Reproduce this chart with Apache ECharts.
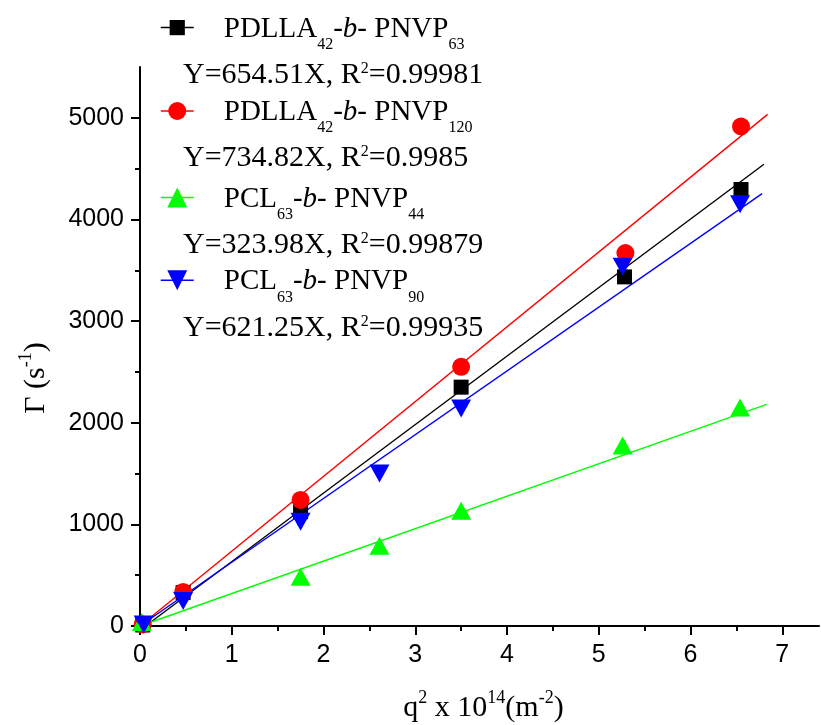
<!DOCTYPE html>
<html>
<head>
<meta charset="UTF-8">
<script src="https://cdn.jsdelivr.net/npm/echarts@6/dist/echarts.min.js"></script>
<style>
  html, body { margin: 0; padding: 0; background: #fff; }
  #chart { width: 821px; height: 725px; }
</style>
</head>
<body>
<div id="chart"></div>
<script type="text/javascript">

    // measured points, x = q^2 in 10^14 m^-2, y = Gamma in s^-1
    var xBlack = [0.03, 0.47, 1.75, 3.50, 5.28, 6.55];
    var yBlack = [10, 330, 1125, 2350, 3435, 4295];
    var xRed   = [0.03, 0.47, 1.75, 3.50, 5.29, 6.55];
    var yRed   = [15, 335, 1240, 2550, 3670, 4915];
    var xGreen = [0.02, 1.75, 2.61, 3.50, 5.26, 6.54];
    var yGreen = [40, 485, 790, 1135, 1775, 2150];
    var xBlue  = [0.04, 0.47, 1.75, 2.61, 3.50, 5.26, 6.54];
    var yBlue  = [15, 245, 1025, 1500, 2140, 3535, 4150];

    // fitted lines, end points
    var fitBlack = [[0.06, 0], [6.80, 4543]];
    var fitRed   = [[0, 0], [6.84, 5034]];
    var fitGreen = [[0, 0], [6.83, 2180]];
    var fitBlue  = [[0, 0], [6.78, 4254]];

    // ticks
    var xTicks = [0, 1, 2, 3, 4, 5, 6, 7];
    var xMinor = [0.5, 1.5, 2.5, 3.5, 4.5, 5.5, 6.5];
    var yTicks = [0, 1000, 2000, 3000, 4000, 5000];
    var yMinor = [500, 1500, 2500, 3500, 4500];

    // legend text: [polymer A, its index, polymer B, its index]
    var names = ['PDLLA42-b-PNVP63', 'PDLLA42-b-PNVP120', 'PCL63-b-PNVP44', 'PCL63-b-PNVP90'];
    var nameParts = [
        ['PDLLA', '42', 'PNVP', '63'],
        ['PDLLA', '42', 'PNVP', '120'],
        ['PCL', '63', 'PNVP', '44'],
        ['PCL', '63', 'PNVP', '90']
    ];
    var eqParts = [
        ['Y=654.51X, R', '=0.99981'],
        ['Y=734.82X, R', '=0.9985'],
        ['Y=323.98X, R', '=0.99879'],
        ['Y=621.25X, R', '=0.99935']
    ];

    var colors = ['#000000', '#ff0000', '#00ff00', '#0000ff'];
    var serif = 'Liberation Serif, Times New Roman, serif';
    var sans = 'Liberation Sans, Arial, sans-serif';

    var legendCaps = [26.3, 109.7, 196.3, 279];
    var eqCaps = [73, 156, 243, 326];
    var iconH = [19, 22.5, 25, 25];

    var chart = echarts.init(document.getElementById('chart'));

    var legendRich = {
        p: { fontSize: 29, fontFamily: serif, color: '#000', lineHeight: 30, verticalAlign: 'top', padding: [10, 0, 0, 25] },
        n: { fontSize: 29, fontFamily: serif, color: '#000', lineHeight: 30, verticalAlign: 'top', padding: [10, 0, 0, 0] },
        i: { fontSize: 29, fontFamily: serif, fontStyle: 'italic', color: '#000', lineHeight: 30, verticalAlign: 'top', padding: [10, 0, 0, 0] },
        s: { fontSize: 16, fontFamily: serif, color: '#000', lineHeight: 16, verticalAlign: 'top', padding: [32, 0, 0, 0] }
    };
    var eqRich = {
        e: { fontSize: 30, fontFamily: serif, color: '#000', lineHeight: 30, verticalAlign: 'top' },
        q: { fontSize: 16, fontFamily: serif, color: '#000', lineHeight: 16, verticalAlign: 'top' }
    };
    var titleRich = {
        t: { fontSize: 30, fontFamily: serif, color: '#000', lineHeight: 32, verticalAlign: 'top', padding: [4, 0, 0, 0] },
        u: { fontSize: 18, fontFamily: serif, color: '#000', lineHeight: 18, verticalAlign: 'top' }
    };

    function legendText(k) {
        var p = nameParts[k];
        return '{p|' + p[0] + '}{s|' + p[1] + '}{n|-}{i|b}{n|- ' + p[2] + '}{s|' + p[3] + '}';
    }

    var legends = [];
    var graphics = [];
    for (var k = 0; k < names.length; k++) {
        (function (k) {
            legends.push({
                data: [names[k]],
                orient: 'vertical',
                left: 160,
                top: legendCaps[k] - 21.7,
                padding: 0,
                itemWidth: 33,
                itemHeight: iconH[k],
                selectedMode: false,
                lineStyle: { color: colors[k], width: 1.5, opacity: 1, type: 'solid' },
                textStyle: { rich: legendRich, padding: [0, 0, 16, 0] },
                formatter: function () { return legendText(k); }
            });
        })(k);
        graphics.push({
            type: 'text',
            x: 183,
            y: eqCaps[k] + 2.6,
            style: {
                text: '{e|' + eqParts[k][0] + '}{q|2}{e|' + eqParts[k][1] + '}',
                rich: eqRich,
                align: 'left',
                verticalAlign: 'middle'
            }
        });
    }

    function pts(xs, ys) {
        var out = [];
        for (var i = 0; i < xs.length; i++) out.push([xs[i], ys[i]]);
        return out;
    }

    function dataSeries(k, xs, ys, symbol, size, rot) {
        return {
            name: names[k],
            type: 'line',
            data: pts(xs, ys),
            symbol: symbol,
            symbolSize: size,
            symbolRotate: rot,
            showSymbol: true,
            showAllSymbol: true,
            lineStyle: { opacity: 0 },
            itemStyle: { color: colors[k], opacity: 1 },
            silent: true,
            clip: false,
            z: 3
        };
    }

    function fitSeries(k, line) {
        return {
            name: 'fit' + k,
            type: 'line',
            data: line,
            symbol: 'none',
            lineStyle: { color: colors[k], width: 1.4 },
            silent: true,
            z: 2
        };
    }

    function strLabel(v) { return String(v); }

    var option = {
        animation: false,
        backgroundColor: '#fff',
        // second grid sits on the first one and only carries the minor ticks
        grid: [
            { left: 140, right: 2, top: 67, bottom: 99, containLabel: false, outerBoundsMode: 'none' },
            { left: 140, right: 2, top: 67, bottom: 99, containLabel: false, outerBoundsMode: 'none' }
        ],
        legend: legends,
        graphic: graphics,
        xAxis: [
            {
                type: 'value', min: 0, max: 7.4, position: 'bottom', gridIndex: 0,
                axisLine: { show: true, onZero: false, lineStyle: { color: '#000', width: 2 } },
                axisTick: { show: true, length: 9, customValues: xTicks, lineStyle: { color: '#000', width: 2 } },
                axisLabel: { customValues: xTicks, formatter: strLabel, color: '#000', fontSize: 25, fontFamily: sans, margin: 17 },
                splitLine: { show: false },
                name: '{t|q}{u|2}{t| x 10}{u|14}{t|(m}{u|-2}{t|)}',
                nameLocation: 'middle',
                nameGap: 63,
                nameTextStyle: { rich: titleRich, padding: [0, 0, 0, 8] }
            },
            {
                type: 'value', min: 0, max: 7.4, position: 'bottom', gridIndex: 1,
                axisLine: { show: false, onZero: false },
                axisTick: { show: true, length: 5, customValues: xMinor, lineStyle: { color: '#000', width: 2 } },
                axisLabel: { show: false },
                splitLine: { show: false }
            }
        ],
        yAxis: [
            {
                type: 'value', min: 0, max: 5500, position: 'left', gridIndex: 0,
                axisLine: { show: true, onZero: false, lineStyle: { color: '#000', width: 2 } },
                axisTick: { show: true, length: 9, customValues: yTicks, lineStyle: { color: '#000', width: 2 } },
                axisLabel: { customValues: yTicks, formatter: strLabel, color: '#000', fontSize: 25, fontFamily: sans, margin: 16 },
                splitLine: { show: false },
                name: '{t|\u0393 (s}{u|-1}{t|)}',
                nameLocation: 'middle',
                nameGap: 91,
                nameTextStyle: { rich: titleRich, padding: [0, 63, 0, 0] }
            },
            {
                type: 'value', min: 0, max: 5500, position: 'left', gridIndex: 1,
                axisLine: { show: false, onZero: false },
                axisTick: { show: true, length: 5, customValues: yMinor, lineStyle: { color: '#000', width: 2 } },
                axisLabel: { show: false },
                splitLine: { show: false }
            }
        ],
        series: [
            fitSeries(0, fitBlack),
            fitSeries(1, fitRed),
            fitSeries(2, fitGreen),
            fitSeries(3, fitBlue),
            dataSeries(0, xBlack, yBlack, 'rect', 15, 0),
            dataSeries(1, xRed, yRed, 'circle', 18, 0),
            dataSeries(2, xGreen, yGreen, 'triangle', [20, 18], 0),
            dataSeries(3, xBlue, yBlue, 'triangle', [20, 18], 180)
        ]
    };

    chart.setOption(option);

</script>
</body>
</html>
